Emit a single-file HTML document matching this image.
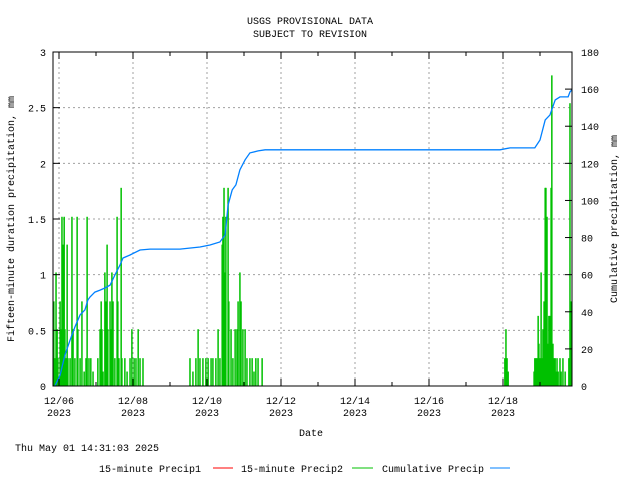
<!DOCTYPE html>
<html><head><meta charset="utf-8"><style>
body{margin:0;background:#fff}
svg{display:block;font-family:"Liberation Mono","DejaVu Sans Mono",monospace;font-size:10px}
</style></head><body>
<svg id="c" width="640" height="480">
<text x="310" y="24" text-anchor="middle">USGS PROVISIONAL DATA</text>
<text x="310" y="37" text-anchor="middle">SUBJECT TO REVISION</text>
<g id="grid"></g><g id="bars"></g><g id="line"></g><g id="axes"></g>
<text x="311" y="436" text-anchor="middle">Date</text>
<text transform="translate(14,219) rotate(-90)" text-anchor="middle">Fifteen-minute duration precipitation, mm</text>
<text transform="translate(617,219) rotate(-90)" text-anchor="middle">Cumulative precipitation, mm</text>
<text x="15" y="451">Thu May 01 14:31:03 2025</text>
<g>
<text x="99" y="472">15-minute Precip1</text>
<line x1="213" y1="468" x2="233" y2="468" stroke="#ff0000"/>
<text x="241" y="472">15-minute Precip2</text>
<line x1="352" y1="468" x2="373" y2="468" stroke="#00c000"/>
<text x="382" y="472">Cumulative Precip</text>
<line x1="490" y1="468" x2="510" y2="468" stroke="#0080ff"/>
</g>
</svg>
<script>
const xTickLabels=["12/06","12/08","12/10","12/12","12/14","12/16","12/18"];
const xTickDays=[0,2,4,6,8,10,12];
const yLeftTicks=[0,0.5,1,1.5,2,2.5,3];
const yRightTicks=[0,20,40,60,80,100,120,140,160,180];
const barDays=[-0.14,-0.11,-0.08,-0.05,-0.03,0.03,0.05,0.08,0.11,0.14,0.16,0.19,0.22,0.24,0.30,0.35,0.38,0.43,0.49,0.51,0.57,0.62,0.68,0.73,0.76,0.81,0.86,0.92,
1.05,1.11,1.14,1.16,1.19,1.24,1.27,1.30,1.32,1.38,1.41,1.43,1.46,1.51,1.57,1.59,1.62,1.68,1.70,1.78,1.84,1.92,1.97,2.03,2.08,2.14,2.19,2.27,
3.54,3.62,3.70,3.76,3.81,3.89,3.97,4.03,4.11,4.16,4.24,4.30,4.35,4.41,4.43,4.46,4.49,4.51,4.57,4.59,4.65,4.70,4.76,4.81,4.84,4.89,4.92,4.97,5.03,5.08,5.16,5.22,5.27,5.32,5.38,5.49,
12.05,12.08,12.11,12.14,
12.84,12.86,12.89,12.92,12.95,12.97,13.00,13.03,13.05,13.08,13.11,13.14,13.16,13.19,13.22,13.24,13.27,13.30,13.32,13.35,13.38,13.41,13.43,13.46,13.49,13.54,13.57,13.62,13.68,13.78,13.81,13.84];
const barValues=[0.76,0.25,1.02,0.51,0.25,0.76,0.51,1.52,1.27,1.52,0.51,0.25,1.27,0.25,0.25,1.52,0.51,0.25,1.52,0.51,0.25,0.76,0.13,0.25,1.52,0.25,0.25,0.13,
0.25,0.51,0.76,0.51,0.13,1.02,0.76,1.27,0.51,0.76,0.51,1.02,0.76,0.25,1.52,0.76,0.25,1.78,0.25,0.25,0.13,0.25,0.51,0.25,0.25,0.51,0.25,0.25,
0.25,0.13,0.25,0.51,0.25,0.25,0.25,0.25,0.25,0.25,0.25,0.51,0.25,1.27,1.52,1.78,1.02,1.52,1.78,0.76,0.51,0.25,0.51,0.51,0.76,1.02,0.76,0.51,0.51,0.25,0.25,0.25,0.13,0.25,0.25,0.25,
0.25,0.51,0.25,0.13,
0.13,0.25,0.25,0.25,0.63,0.38,0.25,1.02,0.25,0.51,0.76,1.78,1.78,1.52,0.38,0.63,0.63,1.78,2.79,0.38,0.25,0.25,0.13,0.25,0.13,0.25,0.13,0.25,0.13,0.25,2.54,0.76];
const cumDays=[-0.11,0.03,0.16,0.30,0.43,0.57,0.70,0.78,0.84,0.97,1.11,1.24,1.38,1.51,1.65,1.73,1.92,2.19,2.46,3.27,3.81,4.08,4.35,4.49,4.57,4.68,4.78,4.89,5.03,5.16,5.38,5.57,11.92,12.19,12.86,13.00,13.14,13.27,13.41,13.54,13.76,13.81,13.86];
const cumValues=[0,5.9,16.7,24.8,31.8,38.3,41,46.4,48,50.6,51.7,52.8,54.4,59.8,65.2,69,70.6,73.3,73.8,73.8,74.9,76,77.6,81.4,97.6,105.7,108.4,116.5,121.9,125.6,126.7,127.3,127.3,128.3,128.3,132.6,143.4,146.1,154.2,155.8,155.8,158.5,159.6];

const L=53,R=572,T=52,B=386;
const xs=d=>59+d*37;
const yl=v=>B-v/3*(B-T);
const yr=v=>B-v/180*(B-T);
const NS="http://www.w3.org/2000/svg";
function mk(tag,parent,attrs){const e=document.createElementNS(NS,tag);for(const k in attrs)e.setAttribute(k,attrs[k]);parent.appendChild(e);return e;}
const grid=document.getElementById('grid'),axes=document.getElementById('axes'),bars=document.getElementById('bars'),line=document.getElementById('line');
xTickDays.forEach((d,i)=>{
  const g=mk('line',grid,{x1:xs(d),x2:xs(d),y1:T,y2:B,stroke:'#a0a0a0','stroke-dasharray':'2,3'});
  
  
  const t=mk('text',axes,{x:xs(d),y:404,'text-anchor':'middle'});t.textContent=xTickLabels[i];
  
  
  const t2=mk('text',axes,{x:xs(d),y:416,'text-anchor':'middle'});t2.textContent='2023';
  
  
});
for(let d=0;d<=13;d++){
  mk('line',axes,{x1:xs(d),x2:xs(d),y1:B,y2:B-(d%2?4:7),stroke:'#000'});
  mk('line',axes,{x1:xs(d),x2:xs(d),y1:T,y2:T+(d%2?4:7),stroke:'#000'});
}
yLeftTicks.forEach(v=>{
  if(v>0&&v<3){const g=mk('line',grid,{x1:L,x2:R,y1:yl(v),y2:yl(v),stroke:'#a0a0a0','stroke-dasharray':'2,3'});
  
  }
  mk('line',axes,{x1:L,x2:L+7,y1:yl(v),y2:yl(v),stroke:'#000'});
  const t=mk('text',axes,{x:46,y:yl(v)+4,'text-anchor':'end'});t.textContent=String(v);
  
  
});
yRightTicks.forEach(v=>{
  mk('line',axes,{x1:R,x2:R-7,y1:yr(v),y2:yr(v),stroke:'#000'});
  const t=mk('text',axes,{x:581,y:yr(v)+4});t.textContent=String(v);
  
  
});
const fr=mk('rect',axes,{x:L,y:T,width:R-L,height:B-T,fill:'none',stroke:'#000'});


barDays.forEach((d,i)=>{
  const b=mk('rect',bars,{x:xs(d)-0.75,y:yl(barValues[i]),width:1.5,height:B-yl(barValues[i]),fill:'#00c000'});
  
  
});
let p='';cumDays.forEach((d,i)=>{p+=(i?' ':'')+xs(d).toFixed(1)+','+yr(cumValues[i]).toFixed(1);});
const pl=mk('polyline',line,{points:p,fill:'none',stroke:'#0080ff','stroke-width':1.3});


</script>
</body></html>
